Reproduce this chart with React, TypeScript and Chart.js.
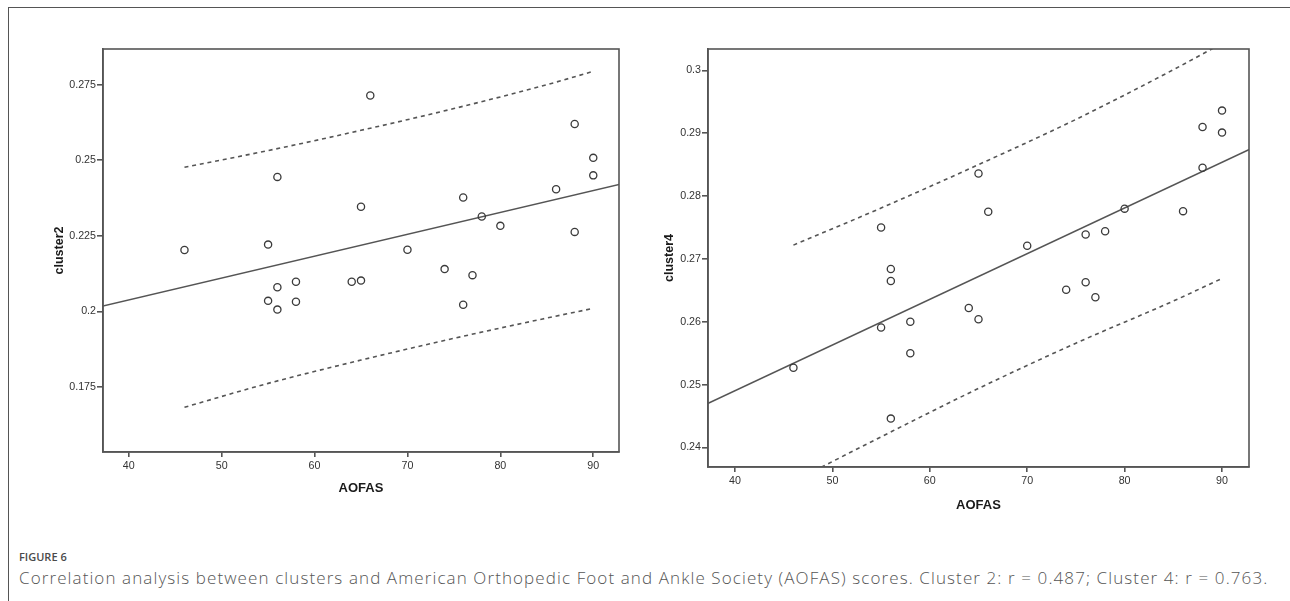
import React, { useEffect, useRef } from "react";
import { Chart, registerables } from "chart.js";

Chart.register(...registerables);

// ---------- data ----------
const xTicks = [40, 50, 60, 70, 80, 90];
const xTickLabels = ["40", "50", "60", "70", "80", "90"];

const y2Ticks = [0.175, 0.2, 0.225, 0.25, 0.275];
const y2TickLabels = ["0.175", "0.2", "0.225", "0.25", "0.275"];
const y4Ticks = [0.24, 0.25, 0.26, 0.27, 0.28, 0.29, 0.3];
const y4TickLabels = ["0.24", "0.25", "0.26", "0.27", "0.28", "0.29", "0.3"];

// Cluster 2 scatter
const aofas2 = [66, 88, 90, 90, 56, 86, 76, 65, 78, 80, 88, 46, 55, 70, 74, 77, 58, 64, 65, 56, 55, 58, 56, 76];
const cluster2 = [0.2714, 0.262, 0.2508, 0.245, 0.2445, 0.2404, 0.2377, 0.2346, 0.2314, 0.2283, 0.2263, 0.2203, 0.2221, 0.2204, 0.214, 0.212, 0.2098, 0.2098, 0.2102, 0.208, 0.2035, 0.2032, 0.2006, 0.2022];

// Cluster 4 scatter
const aofas4 = [90, 88, 90, 88, 65, 66, 80, 86, 55, 76, 78, 70, 56, 56, 76, 74, 77, 64, 65, 58, 55, 58, 46, 56];
const cluster4 = [0.2936, 0.291, 0.2901, 0.2845, 0.2836, 0.2775, 0.278, 0.2776, 0.275, 0.2739, 0.2744, 0.2721, 0.2684, 0.2665, 0.2663, 0.2651, 0.2639, 0.2622, 0.2604, 0.26, 0.2591, 0.255, 0.2527, 0.2446];

// regression lines (read at ends, extend past the plot and are clipped)
const fitX = [35, 95];
const fit2Y = [0.2002, 0.2436];
const fit4Y = [0.2454, 0.289];

// prediction bands
const bandX = [46, 55, 65, 75, 85, 90];
const upper2 = [0.2477, 0.2532, 0.2599, 0.2671, 0.275, 0.2794];
const lower2 = [0.1683, 0.1762, 0.1839, 0.1911, 0.1978, 0.201];
const upper4 = [0.2722, 0.2781, 0.285, 0.2922, 0.3001, 0.3043];
const lower4 = [0.2346, 0.2417, 0.2494, 0.2566, 0.2633, 0.2669];

const xTitle = "AOFAS";
const captionLabel = "FIGURE 6";
const captionText =
  "Correlation analysis between clusters and American Orthopedic Foot and Ankle Society (AOFAS) scores. Cluster 2: r = 0.487; Cluster 4: r = 0.763.";

// ---------- helpers ----------
const pts = (xs: number[], ys: number[]) => xs.map((x, i) => ({ x, y: ys[i] }));

const LINE = "#555555";
const TICK_FONT = { family: "'Liberation Sans', Arial, sans-serif", size: 10.7 };
const TITLE_FONT = { family: "'Liberation Sans', Arial, sans-serif", size: 13, weight: "bold" as const };

const framePlugin = {
  id: "frame",
  afterDatasetsDraw(chart: any) {
    const { ctx, chartArea } = chart;
    const { left, top, right, bottom } = chartArea;
    ctx.save();
    ctx.strokeStyle = LINE;
    ctx.lineWidth = 1.6;
    ctx.strokeRect(left, top, right - left, bottom - top);
    ctx.restore();
  },
};

interface Cfg {
  px: number[];
  py: number[];
  fitY: number[];
  upper: number[];
  lower: number[];
  yTicks: number[];
  yLabels: string[];
  yMin: number;
  yMax: number;
  yTitle: string;
  yAxisWidth: number;
  xAxisHeight: number;
  padTop: number;
  padRight: number;
  yTitlePad: number;
  xTitlePad: number;
}

function makeConfig(c: Cfg): any {
  const dashed = {
    showLine: true,
    borderColor: LINE,
    borderWidth: 1.6,
    borderDash: [4, 3.8],
    pointRadius: 0,
    cubicInterpolationMode: "monotone",
    fill: false,
  };
  return {
    type: "scatter",
    data: {
      datasets: [
        {
          data: pts(c.px, c.py),
          pointRadius: 3.6,
          pointBorderWidth: 1.3,
          pointBorderColor: "#3a3a3a",
          pointBackgroundColor: "rgba(0,0,0,0)",
          showLine: false,
        },
        {
          data: pts(fitX, c.fitY),
          showLine: true,
          borderColor: LINE,
          borderWidth: 1.5,
          pointRadius: 0,
        },
        { data: pts(bandX, c.upper), ...dashed },
        { data: pts(bandX, c.lower), ...dashed },
      ],
    },
    options: {
      animation: false,
      responsive: false,
      devicePixelRatio: 1,
      layout: { padding: { left: 0, top: c.padTop, right: c.padRight, bottom: 0 } },
      plugins: { legend: { display: false }, tooltip: { enabled: false } },
      scales: {
        x: {
          type: "linear",
          min: 37.23,
          max: 92.77,
          afterBuildTicks: (s: any) => {
            s.ticks = xTicks.map((v) => ({ value: v }));
          },
          afterFit: (s: any) => {
            s.height = c.xAxisHeight;
          },
          grid: { display: true, drawOnChartArea: false, drawTicks: true, tickLength: 5, color: LINE, lineWidth: 1.6 },
          border: { display: true, color: LINE, width: 1.6 },
          ticks: {
            font: TICK_FONT,
            color: "#333",
            padding: 3,
            maxRotation: 0,
            autoSkip: false,
            callback: (_v: any, i: number) => xTickLabels[i],
          },
          title: { display: true, text: xTitle, font: TITLE_FONT, color: "#1a1a1a", padding: { top: 0, bottom: c.xTitlePad } },
        },
        y: {
          type: "linear",
          min: c.yMin,
          max: c.yMax,
          afterBuildTicks: (s: any) => {
            s.ticks = c.yTicks.map((v) => ({ value: v }));
          },
          afterFit: (s: any) => {
            s.width = c.yAxisWidth;
          },
          grid: { display: true, drawOnChartArea: false, drawTicks: true, tickLength: 6, color: LINE, lineWidth: 1.6 },
          border: { display: true, color: LINE, width: 1.6 },
          ticks: {
            font: TICK_FONT,
            color: "#333",
            padding: 1,
            autoSkip: false,
            callback: (_v: any, i: number) => c.yLabels[i],
          },
          title: { display: true, text: c.yTitle, font: { ...TITLE_FONT, size: 12.5 }, color: "#1a1a1a", padding: { top: c.yTitlePad, bottom: 0 } },
        },
      },
    },
    plugins: [framePlugin],
  };
}

function ChartCanvas({ cfg, left, top, width, height }: { cfg: Cfg; left: number; top: number; width: number; height: number }) {
  const ref = useRef<HTMLCanvasElement | null>(null);
  useEffect(() => {
    if (!ref.current) return;
    const chart = new Chart(ref.current, makeConfig(cfg));
    return () => chart.destroy();
  }, []);
  return (
    <canvas
      ref={ref}
      width={width}
      height={height}
      style={{ position: "absolute", left, top, width, height }}
    />
  );
}

const cfg2: Cfg = {
  px: aofas2,
  py: cluster2,
  fitY: fit2Y,
  upper: upper2,
  lower: lower2,
  yTicks: y2Ticks,
  yLabels: y2TickLabels,
  yMin: 0.1535,
  yMax: 0.2868,
  yTitle: "cluster2",
  yAxisWidth: 83,
  xAxisHeight: 68,
  padTop: 49,
  padRight: 21,
  yTitlePad: 32,
  xTitlePad: 24,
};

const cfg4: Cfg = {
  px: aofas4,
  py: cluster4,
  fitY: fit4Y,
  upper: upper4,
  lower: lower4,
  yTicks: y4Ticks,
  yLabels: y4TickLabels,
  yMin: 0.2369,
  yMax: 0.3034,
  yTitle: "cluster4",
  yAxisWidth: 58,
  xAxisHeight: 63,
  padTop: 49,
  padRight: 21,
  yTitlePad: 12,
  xTitlePad: 17,
};

export default function App() {
  return (
    <div style={{ position: "absolute", left: 0, top: 0, width: 1290, height: 601, background: "#fff", overflow: "hidden" }}>
      <div
        style={{
          position: "absolute",
          left: 8,
          top: 7,
          width: 1300,
          height: 620,
          borderTop: "1.5px solid #555",
          borderLeft: "1.5px solid #555",
        }}
      />
      <ChartCanvas cfg={cfg2} left={20} top={0} width={620} height={520} />
      <ChartCanvas cfg={cfg4} left={650} top={0} width={620} height={530} />
      <div
        style={{
          position: "absolute",
          left: 19,
          top: 549,
          fontFamily: "'Open Sans', sans-serif",
          fontSize: 11,
          fontWeight: 600,
          color: "#4a4a4a",
          lineHeight: "16px",
          whiteSpace: "nowrap",
        }}
      >
        {captionLabel}
      </div>
      <div
        style={{
          position: "absolute",
          left: 19,
          top: 567,
          fontFamily: "'Open Sans', sans-serif",
          fontSize: 17,
          fontWeight: 300,
          letterSpacing: 1.1,
          color: "#555",
          lineHeight: "22px",
          whiteSpace: "nowrap",
        }}
      >
        {captionText}
      </div>
    </div>
  );
}
